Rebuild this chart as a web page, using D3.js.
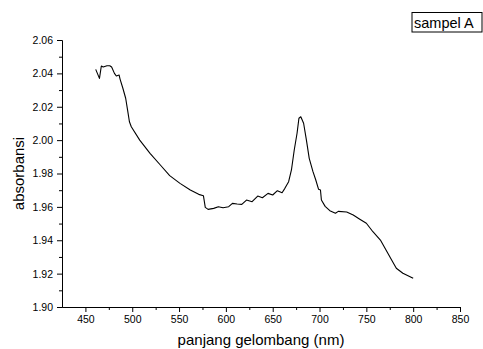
<!DOCTYPE html>
<html>
<head>
<meta charset="utf-8">
<script src="https://cdn.jsdelivr.net/npm/d3@7"></script>
<style>
  body { margin: 0; background: #fff; }
  svg { display: block; font-family: "Liberation Sans", Arial, sans-serif; }
  .axis path, .axis line { stroke: #000; stroke-width: 1; }
  .axis text { fill: #000; font-size: 10.5px; }
</style>
</head>
<body>
<svg id="chart"></svg>
<script>
let width = 483;
let height = 349;
let margin = {"top": 40, "bottom": 42, "left": 62, "right": 23};

// spectrum
let wavelength = [461, 465, 467, 469, 473, 476, 478, 481, 483, 486, 487, 490, 493, 495, 497, 499,
    508, 519, 530, 540, 551, 562, 571, 576, 578, 581, 587, 592, 597, 603, 607, 612, 617, 622,
    628, 634, 639, 645, 650, 655, 660, 663, 667, 670, 673, 676, 678, 680, 683, 686, 689, 693,
    696, 699, 701, 702, 706, 711, 717, 720, 729, 736, 743, 750, 757, 765, 771, 777, 782, 789, 800];
let absorbance = [2.0424, 2.0370, 2.0444, 2.0438, 2.0446, 2.0446, 2.0438, 2.0400, 2.0384, 2.0390,
    2.0366, 2.0311, 2.0251, 2.0181, 2.0110, 2.0080, 2.0000, 1.9921, 1.9851, 1.9787, 1.9741,
    1.9701, 1.9675, 1.9667, 1.9597, 1.9585, 1.9591, 1.9601, 1.9595, 1.9601, 1.9621, 1.9617,
    1.9615, 1.9641, 1.9631, 1.9665, 1.9655, 1.9681, 1.9671, 1.9697, 1.9685, 1.9711, 1.9751,
    1.9821, 1.9941, 2.0041, 2.0131, 2.0140, 2.0101, 2.0000, 1.9891, 1.9811, 1.9761, 1.9705,
    1.9701, 1.9641, 1.9603, 1.9577, 1.9562, 1.9573, 1.9569, 1.9551, 1.9526, 1.9502, 1.9451,
    1.9401, 1.9342, 1.9282, 1.9232, 1.9202, 1.9172];

let xTicks = [450, 500, 550, 600, 650, 700, 750, 800, 850];
let xMinorTicks = [475, 525, 575, 625, 675, 725, 775, 825];
let yTicks = [1.90, 1.92, 1.94, 1.96, 1.98, 2.00, 2.02, 2.04, 2.06];
let yMinorTicks = [1.91, 1.93, 1.95, 1.97, 1.99, 2.01, 2.03, 2.05];
let seriesName = "sampel A";

let svg = d3.select("#chart")
    .attr("width", width)
    .attr("height", height);

let x = d3.scaleLinear()
    .domain([425, 850])
    .range([margin.left, width - margin.right]);
let y = d3.scaleLinear()
    .domain([1.90, 2.06])
    .range([height - margin.bottom, margin.top]);

// minor ticks first, without labels
svg.append("g")
    .attr("class", "axis")
    .attr("transform", `translate(0, ${height - margin.bottom})`)
    .call(d3.axisBottom(x).tickValues(xMinorTicks).tickSize(3).tickSizeOuter(0).tickFormat(""));
svg.append("g")
    .attr("class", "axis")
    .attr("transform", `translate(${margin.left}, 0)`)
    .call(d3.axisLeft(y).tickValues(yMinorTicks).tickSize(3).tickSizeOuter(0).tickFormat(""));

svg.append("g")
    .attr("class", "axis")
    .attr("transform", `translate(0, ${height - margin.bottom})`)
    .call(d3.axisBottom(x).tickValues(xTicks).tickSize(5).tickSizeOuter(0).tickPadding(4).tickFormat(d3.format("d")));
svg.append("g")
    .attr("class", "axis")
    .attr("transform", `translate(${margin.left}, 0)`)
    .call(d3.axisLeft(y).tickValues(yTicks).tickSize(5).tickSizeOuter(0).tickPadding(4).tickFormat(d3.format(".2f")));

let line = d3.line()
    .x((d, i) => x(wavelength[i]))
    .y((d) => y(d));

svg.append("path")
    .datum(absorbance)
    .attr("d", line)
    .style("fill", "none")
    .style("stroke", "#000")
    .style("stroke-width", 1.1)
    .style("stroke-linejoin", "round");

// axis titles
svg.append("text")
    .attr("x", (margin.left + width - margin.right) / 2)
    .attr("y", 345)
    .style("text-anchor", "middle")
    .style("font-size", "15px")
    .text("panjang gelombang (nm)");
svg.append("text")
    .attr("transform", `translate(24, ${(margin.top + height - margin.bottom) / 2}) rotate(-90)`)
    .style("text-anchor", "middle")
    .style("font-size", "15px")
    .text("absorbansi");

// legend box
let legend = svg.append("g");
legend.append("rect")
    .attr("x", 412)
    .attr("y", 12.5)
    .attr("width", 70)
    .attr("height", 19.5)
    .style("fill", "#fff")
    .style("stroke", "#000")
    .style("stroke-width", 1);
legend.append("text")
    .attr("x", 414)
    .attr("y", 27.5)
    .style("font-size", "14.5px")
    .text(seriesName);
</script>
</body>
</html>
